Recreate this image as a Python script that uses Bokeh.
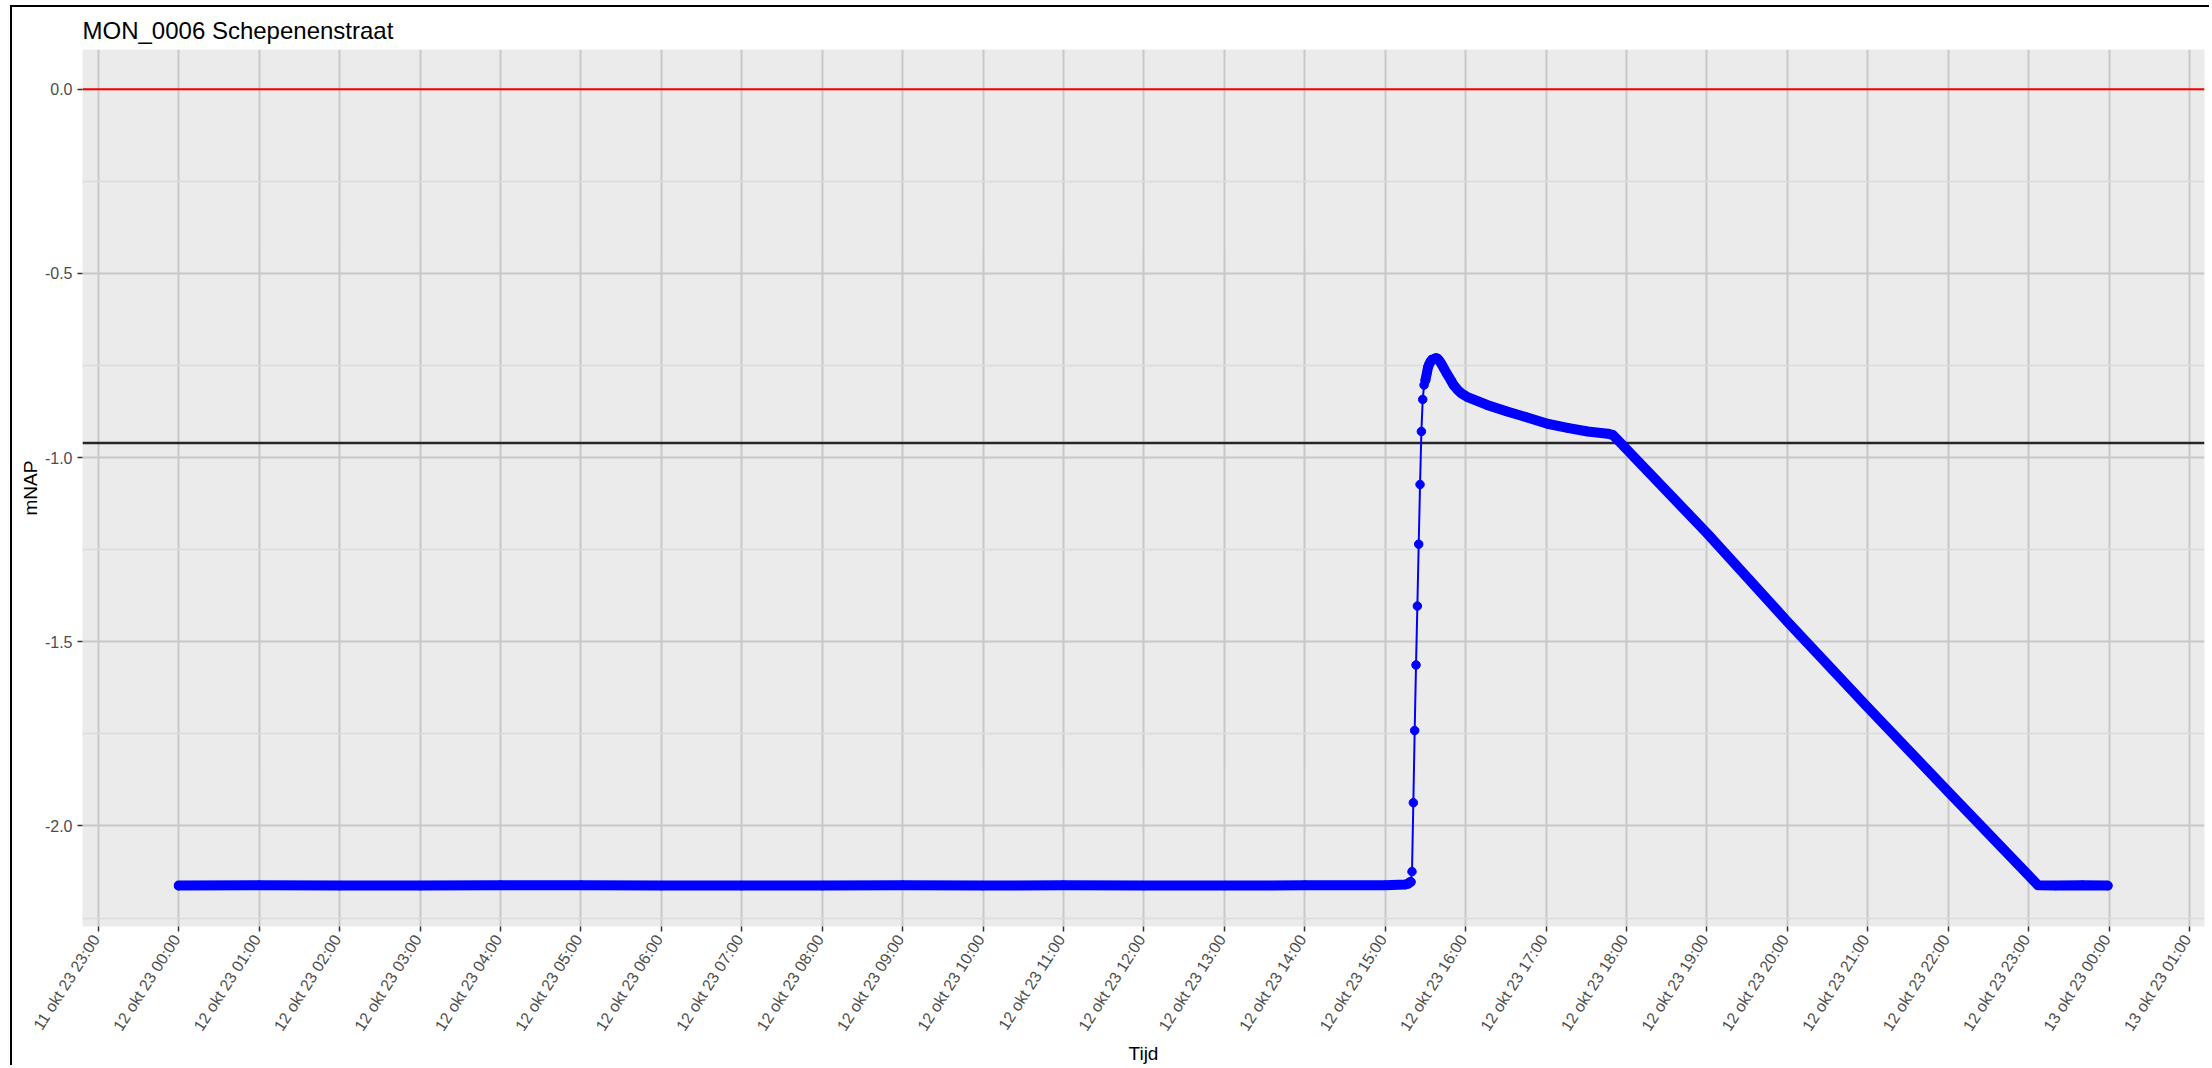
import math
from bokeh.plotting import figure
from bokeh.models import Range1d, FixedTicker, Span
from bokeh.embed import file_html
from bokeh.resources import INLINE

# ---------------- data ----------------
chart_title = "MON_0006 Schepenenstraat"
x_title = "Tijd"
y_title = "mNAP"

# minutes since 12 okt 2023 00:00, water level in mNAP
before_min = [0, 60, 120, 180, 240, 300, 360, 420, 480, 540, 600, 660, 720,
              780, 840, 900, 915, 917, 918, 919]
before_mnap = [-2.162, -2.161, -2.162, -2.162, -2.161, -2.161, -2.162, -2.162,
               -2.162, -2.161, -2.162, -2.161, -2.162, -2.162, -2.161, -2.161,
               -2.159, -2.157, -2.154, -2.152]

event_min = [919, 920, 921, 922, 923, 924, 925, 926, 927, 928, 929, 930]
event_mnap = [-2.152, -2.124, -1.937, -1.741, -1.563, -1.403, -1.235, -1.073,
              -0.929, -0.842, -0.803, -0.790]

after_min = [930, 931, 932, 933, 934, 935, 936, 937, 938, 939, 940, 942, 944,
             946, 949, 951, 954, 957, 961, 976, 991, 1006, 1021, 1036, 1051,
             1066, 1070, 1140, 1200, 1260, 1320, 1387, 1400, 1420, 1439]
after_mnap = [-0.790, -0.772, -0.754, -0.745, -0.738, -0.734, -0.733, -0.731,
              -0.730, -0.731, -0.735, -0.746, -0.759, -0.772, -0.790, -0.803,
              -0.816, -0.826, -0.835, -0.857, -0.875, -0.891, -0.908, -0.919,
              -0.929, -0.935, -0.939, -1.205, -1.445, -1.678, -1.907, -2.161,
              -2.162, -2.161, -2.162]

zero_level = 0.0
threshold_level = -0.96

x_tick_minutes = [-60, 0, 60, 120, 180, 240, 300, 360, 420, 480, 540, 600, 660,
                  720, 780, 840, 900, 960, 1020, 1080, 1140, 1200, 1260, 1320,
                  1380, 1440, 1500]
x_tick_labels = ["11 okt 23  23:00", "12 okt 23  00:00", "12 okt 23  01:00",
                 "12 okt 23  02:00", "12 okt 23  03:00", "12 okt 23  04:00",
                 "12 okt 23  05:00", "12 okt 23  06:00", "12 okt 23  07:00",
                 "12 okt 23  08:00", "12 okt 23  09:00", "12 okt 23  10:00",
                 "12 okt 23  11:00", "12 okt 23  12:00", "12 okt 23  13:00",
                 "12 okt 23  14:00", "12 okt 23  15:00", "12 okt 23  16:00",
                 "12 okt 23  17:00", "12 okt 23  18:00", "12 okt 23  19:00",
                 "12 okt 23  20:00", "12 okt 23  21:00", "12 okt 23  22:00",
                 "12 okt 23  23:00", "13 okt 23  00:00", "13 okt 23  01:00"]

y_ticks = [0.0, -0.5, -1.0, -1.5, -2.0]
y_tick_labels = ["0.0", "-0.5", "-1.0", "-1.5", "-2.0"]
y_minor_ticks = [0.25, -0.25, -0.75, -1.25, -1.75, -2.25]

# ---------------- figure ----------------
FONT = "Liberation Sans"
BLUE = "#0000FF"

p = figure(width=2199, height=1060, output_backend="svg", toolbar_location=None,
           x_range=Range1d(-71.8, 1511.2), y_range=Range1d(-2.273, 0.108),
           min_border_left=70, min_border_right=7, min_border_top=42,
           min_border_bottom=139, title=chart_title)

p.background_fill_color = "#EBEBEB"
p.border_fill_color = "white"
p.outline_line_color = None
p.styles = {"margin-left": "10px", "margin-top": "5px",
            "border-left": "2px solid black", "border-top": "2px solid black"}

p.title.text_font = FONT
p.title.text_font_size = "24px"
p.title.text_font_style = "normal"
p.title.text_color = "black"
p.title.align = "left"
p.title.vertical_align = "top"
p.title.standoff = 7

# ticks and grids
p.xaxis.ticker = FixedTicker(ticks=x_tick_minutes, minor_ticks=[])
p.yaxis.ticker = FixedTicker(ticks=y_ticks, minor_ticks=y_minor_ticks)
p.xaxis.major_label_overrides = dict(zip(x_tick_minutes, x_tick_labels))
p.yaxis.major_label_overrides = dict(zip(y_ticks, y_tick_labels))

p.xgrid.grid_line_color = "#C8C8C8"
p.xgrid.grid_line_width = 2
p.xgrid.minor_grid_line_color = None
p.ygrid.grid_line_color = "#C8C8C8"
p.ygrid.grid_line_width = 2
p.ygrid.minor_grid_line_color = "#DCDCDC"
p.ygrid.minor_grid_line_width = 1.5

for ax in (p.xaxis[0], p.yaxis[0]):
    ax.axis_line_color = None
    ax.major_tick_line_color = "#333333"
    ax.major_tick_line_width = 1.5
    ax.major_tick_out = 5
    ax.major_tick_in = 0
    ax.minor_tick_line_color = None
    ax.major_label_text_font = FONT
    ax.major_label_text_font_size = "16px"
    ax.major_label_text_color = "#4D4D4D"
    ax.axis_label_text_font = FONT
    ax.axis_label_text_font_size = "19px"
    ax.axis_label_text_font_style = "normal"
    ax.axis_label_text_color = "black"

p.xaxis.axis_label = x_title
p.yaxis.axis_label = y_title
p.xaxis.major_label_orientation = math.radians(57.5)
p.xaxis.major_label_standoff = 1
p.xaxis.axis_label_standoff = 2
p.yaxis.major_label_standoff = 5
p.yaxis.axis_label_standoff = 1

# reference lines
p.add_layout(Span(location=zero_level, dimension="width", line_color="#FF0000",
                  line_width=2, level="underlay"))
p.add_layout(Span(location=threshold_level, dimension="width", line_color="#262626",
                  line_width=2.5, level="underlay"))

# measurements: dense minute readings form a solid band
for xs, ys in ((before_min, before_mnap), (after_min, after_mnap)):
    p.line(xs, ys, line_color=BLUE, line_width=10, line_cap="round",
           line_join="round")

all_min = before_min + event_min + after_min
all_mnap = before_mnap + event_mnap + after_mnap
p.line(all_min, all_mnap, line_color=BLUE, line_width=2)
p.scatter(all_min, all_mnap, size=8.5, fill_color=BLUE, line_color=BLUE)

open("out.html", "w").write(file_html(p, INLINE))
